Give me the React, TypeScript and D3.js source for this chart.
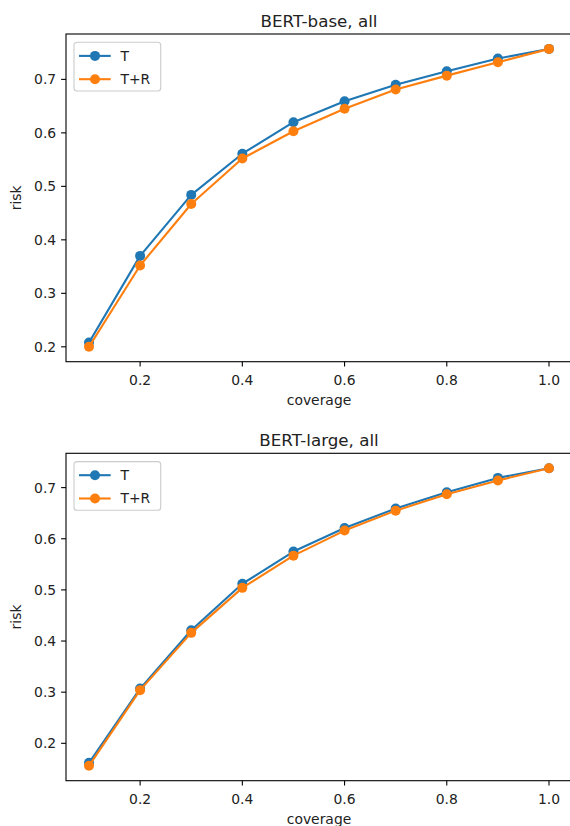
import React, { useRef, useEffect } from "react";
import * as d3 from "d3";

// coverage levels shared by both panels
const coverage = [0.1, 0.2, 0.3, 0.4, 0.5, 0.6, 0.7, 0.8, 0.9, 1.0];

// BERT-base, all
const baseT = [0.208, 0.37, 0.484, 0.561, 0.62, 0.659, 0.69, 0.715, 0.739, 0.757];
const baseTR = [0.2, 0.352, 0.467, 0.552, 0.603, 0.645, 0.681, 0.707, 0.732, 0.757];

// BERT-large, all
const largeT = [0.162, 0.307, 0.421, 0.512, 0.575, 0.621, 0.659, 0.691, 0.719, 0.738];
const largeTR = [0.156, 0.304, 0.416, 0.504, 0.567, 0.616, 0.655, 0.687, 0.714, 0.738];

const xTicks = [0.2, 0.4, 0.6, 0.8, 1.0];
const yTicks = [0.2, 0.3, 0.4, 0.5, 0.6, 0.7];

const seriesNames = ["T", "T+R"];
const colors = ["#1f77b4", "#ff7f0e"];

const panels = [
  { title: "BERT-base, all", series: [baseT, baseTR], top: 34, bottom: 361.7 },
  { title: "BERT-large, all", series: [largeT, largeTR], top: 453.3, bottom: 780.7 },
];

const FONT = "DejaVu Sans, sans-serif";
const TEXT = "#222";

export default function App() {
  const svgRef = useRef<SVGSVGElement>(null);

  useEffect(() => {
    document.body.style.margin = "0";
    const svg = d3.select(svgRef.current);
    svg.selectAll("*").remove();

    const left = 66;
    const right = 572;

    panels.forEach((p) => {
      // matplotlib-like 5% margins around data
      const all = p.series.flat();
      const lo = d3.min(all) as number;
      const hi = d3.max(all) as number;
      const pad = (hi - lo) * 0.05;

      const x = d3.scaleLinear().domain([0.055, 1.045]).range([left, right]);
      const y = d3.scaleLinear().domain([lo - pad, hi + pad]).range([p.bottom, p.top]);

      const g = svg.append("g");

      // axes frame
      g.append("rect")
        .attr("x", left)
        .attr("y", p.top)
        .attr("width", right - left)
        .attr("height", p.bottom - p.top)
        .attr("fill", "none")
        .attr("stroke", "#000")
        .attr("stroke-width", 1.1);

      // x ticks
      xTicks.forEach((t) => {
        g.append("line")
          .attr("x1", x(t))
          .attr("x2", x(t))
          .attr("y1", p.bottom)
          .attr("y2", p.bottom + 4.9)
          .attr("stroke", "#000")
          .attr("stroke-width", 1.1);
        g.append("text")
          .attr("x", x(t))
          .attr("y", p.bottom + 23)
          .attr("text-anchor", "middle")
          .attr("fill", TEXT)
          .style("font-family", FONT)
          .style("font-size", "13.9px")
          .text(t.toFixed(1));
      });

      // y ticks
      yTicks.forEach((t) => {
        g.append("line")
          .attr("x1", left - 4.9)
          .attr("x2", left)
          .attr("y1", y(t))
          .attr("y2", y(t))
          .attr("stroke", "#000")
          .attr("stroke-width", 1.1);
        g.append("text")
          .attr("x", left - 9.8)
          .attr("y", y(t))
          .attr("dy", "0.36em")
          .attr("text-anchor", "end")
          .attr("fill", TEXT)
          .style("font-family", FONT)
          .style("font-size", "13.9px")
          .text(t.toFixed(1));
      });

      // axis labels
      g.append("text")
        .attr("x", (left + right) / 2)
        .attr("y", p.bottom + 43)
        .attr("text-anchor", "middle")
        .attr("fill", TEXT)
        .style("font-family", FONT)
        .style("font-size", "13.9px")
        .text("coverage");

      g.append("text")
        .attr("transform", `translate(21, ${(p.top + p.bottom) / 2}) rotate(-90)`)
        .attr("text-anchor", "middle")
        .attr("fill", TEXT)
        .style("font-family", FONT)
        .style("font-size", "13.9px")
        .text("risk");

      // title
      g.append("text")
        .attr("x", (left + right) / 2)
        .attr("y", p.top - 7.5)
        .attr("text-anchor", "middle")
        .attr("fill", TEXT)
        .style("font-family", FONT)
        .style("font-size", "16.7px")
        .text(p.title);

      // lines + markers, orange drawn last
      const line = d3
        .line<number>()
        .x((_, i) => x(coverage[i]))
        .y((d) => y(d));

      p.series.forEach((vals, si) => {
        g.append("path")
          .attr("d", line(vals))
          .attr("fill", "none")
          .attr("stroke", colors[si])
          .attr("stroke-width", 2.1)
          .attr("stroke-linejoin", "round")
          .attr("stroke-linecap", "square");
        g.selectAll(null)
          .data(vals)
          .enter()
          .append("circle")
          .attr("cx", (_, i) => x(coverage[i]))
          .attr("cy", (d) => y(d))
          .attr("r", 5)
          .attr("fill", colors[si]);
      });

      // legend
      const lg = g.append("g").attr("transform", `translate(74, ${p.top + 8.3})`);
      lg.append("rect")
        .attr("width", 86.7)
        .attr("height", 48.7)
        .attr("rx", 3)
        .attr("fill", "white")
        .attr("fill-opacity", 0.8)
        .attr("stroke", "#ccc")
        .attr("stroke-width", 1.1);
      seriesNames.forEach((name, i) => {
        const cy = 13.6 + i * 23.3;
        lg.append("line")
          .attr("x1", 5)
          .attr("x2", 36.7)
          .attr("y1", cy)
          .attr("y2", cy)
          .attr("stroke", colors[i])
          .attr("stroke-width", 2.1);
        lg.append("circle")
          .attr("cx", 21)
          .attr("cy", cy)
          .attr("r", 5)
          .attr("fill", colors[i]);
        lg.append("text")
          .attr("x", 46.5)
          .attr("y", cy)
          .attr("dy", "0.36em")
          .attr("fill", TEXT)
          .style("font-family", FONT)
          .style("font-size", "13.9px")
          .text(name);
      });
    });
  }, []);

  return <svg ref={svgRef} width={570} height={826} style={{ display: "block" }}></svg>;
}
